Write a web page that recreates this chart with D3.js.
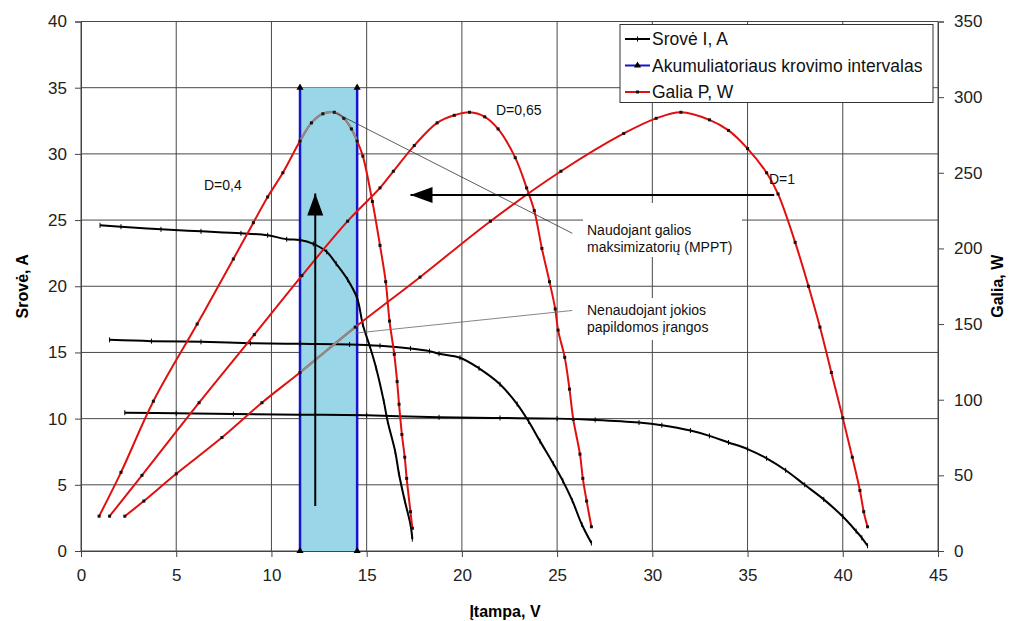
<!DOCTYPE html>
<html>
<head>
<meta charset="utf-8">
<script src="https://cdn.jsdelivr.net/npm/d3@7"></script>
<style>
  body { margin: 0; background: #fff; }
  svg { font-family: "Liberation Sans", Arial, sans-serif; }
</style>
</head>
<body>
<svg id="chart" width="1021" height="621"></svg>
<script>
// Current curves [V, A]
const currentD04 = [[1.0,24.6],[2.1,24.5],[4.2,24.3],[6.3,24.15],[8.4,24.0],[9.8,23.85],[10.8,23.55],[11.5,23.5],[12.2,23.2],[12.9,22.6],[13.4,21.7],[14.0,20.5],[14.5,19.1],[14.8,17.1],[15.2,15.3],[15.5,13.8],[15.9,11.3],[16.1,9.8],[16.5,7.5],[16.7,5.8],[17.0,3.8],[17.3,2.0],[17.4,0.9]];
const currentD065 = [[1.5,15.95],[3.7,15.85],[6.3,15.8],[8.9,15.7],[11.5,15.65],[14.1,15.6],[15.7,15.5],[17.3,15.3],[18.3,15.1],[18.8,14.9],[19.9,14.6],[20.9,13.8],[22.0,12.6],[22.9,11.1],[23.5,9.8],[24.1,8.3],[24.8,6.6],[25.3,5.3],[25.8,3.8],[26.3,2.0],[26.8,0.6]];
const currentD1 = [[2.3,10.45],[5,10.4],[8,10.35],[11.5,10.3],[15,10.25],[18.8,10.1],[22,10.05],[25,10.0],[27,9.9],[29.3,9.7],[30.5,9.5],[32,9.1],[33,8.7],[34,8.2],[35,7.7],[36,7.0],[37,6.1],[38,5.0],[39,3.9],[40,2.6],[40.7,1.5],[41,1.0],[41.3,0.4]];

// Power curves [V, W]
const powerD04 = [[0.95,23],[2.1,52],[3.8,99],[6.1,150],[8,193],[9.05,217],[9.8,234],[10.6,250],[11.5,271],[12.1,283],[12.7,289],[13.3,290],[13.8,286],[14.2,279],[14.5,271],[14.8,261],[15.3,231],[15.7,202],[16.0,178],[16.2,152],[16.45,130],[16.6,112],[16.7,97],[16.85,77],[17.0,62],[17.1,48],[17.3,26],[17.4,15]];
const powerD065 = [[1.5,23],[3.2,50],[6.2,98],[9.1,143],[11.6,182],[14.0,218],[15.7,240],[16.4,251],[17.5,268],[18.7,283],[19.6,288],[20.4,290],[21.2,287],[21.9,279],[22.8,260],[23.4,240],[23.8,225],[24.2,200],[24.6,178],[24.9,160],[25.05,146],[25.4,128],[25.65,107],[25.85,87],[26.2,64],[26.35,48],[26.55,33],[26.8,16]];
const powerD1 = [[2.3,23],[3.3,33],[5,51],[7.4,75],[9.5,98],[11.5,118],[14.4,148],[17.8,181],[21.5,218],[25.2,251],[28.5,276],[30.2,286],[31.5,290],[33,285],[34,278],[35,266],[36,250],[36.6,236],[37.5,204],[38.2,175],[38.8,148],[39.4,118],[40,88],[40.5,62],[40.9,40],[41.1,26],[41.3,16]];

// Charging interval (V) and its height (A)
const chargeInterval = [11.5, 14.5];
const chargeTop = 35;

const xTicks = d3.range(0, 46, 5);
const yLeftTicks = d3.range(0, 41, 5);
const yRightTicks = d3.range(0, 351, 50);

const legendItems = ["Srovė I, A", "Akumuliatoriaus krovimo intervalas", "Galia P, W"];

const svg = d3.select('#chart');
const plotLeft = 81, plotRight = 938, plotTop = 21.5, plotBottom = 551;

const x = d3.scaleLinear().domain([0, 45]).range([plotLeft, plotRight]);
const yL = d3.scaleLinear().domain([0, 40]).range([plotBottom, plotTop]);
const yR = d3.scaleLinear().domain([0, 350]).range([plotBottom, plotTop]);

// grid
svg.append('g').selectAll('line').data(yLeftTicks).join('line')
    .attr('x1', plotLeft).attr('x2', plotRight)
    .attr('y1', d => yL(d)).attr('y2', d => yL(d))
    .attr('stroke', '#484848').attr('stroke-width', 1);
svg.append('g').selectAll('line').data(xTicks).join('line')
    .attr('x1', d => x(d)).attr('x2', d => x(d))
    .attr('y1', plotTop).attr('y2', plotBottom)
    .attr('stroke', '#484848').attr('stroke-width', 1);

// axes
const axisL = svg.append('g').attr('transform', `translate(${plotLeft},0)`)
    .call(d3.axisLeft(yL).tickValues(yLeftTicks).tickSize(6).tickPadding(8));
const axisR = svg.append('g').attr('transform', `translate(${plotRight},0)`)
    .call(d3.axisRight(yR).tickValues(yRightTicks).tickSize(6).tickPadding(10));
const axisB = svg.append('g').attr('transform', `translate(0,${plotBottom})`)
    .call(d3.axisBottom(x).tickValues(xTicks).tickSize(6).tickPadding(12));
[axisL, axisR, axisB].forEach(a => {
    a.select('.domain').attr('stroke', '#444');
    a.selectAll('.tick line').attr('stroke', '#444');
    a.selectAll('.tick text').attr('font-size', 17).attr('fill', '#222')
        .attr('font-family', '"Liberation Sans", Arial, sans-serif');
});

// axis titles
svg.append('text').attr('transform', `translate(28,${(plotTop + plotBottom) / 2}) rotate(-90)`)
    .attr('text-anchor', 'middle').attr('font-size', 16).attr('font-weight', 'bold')
    .text('Srovė, A');
svg.append('text').attr('transform', `translate(1003,${(plotTop + plotBottom) / 2}) rotate(-90)`)
    .attr('text-anchor', 'middle').attr('font-size', 16).attr('font-weight', 'bold')
    .text('Galia, W');
svg.append('text').attr('x', 505).attr('y', 617)
    .attr('text-anchor', 'middle').attr('font-size', 16).attr('font-weight', 'bold')
    .text('Įtampa, V');

// charging band
svg.append('rect')
    .attr('x', x(chargeInterval[0])).attr('y', yL(chargeTop))
    .attr('width', x(chargeInterval[1]) - x(chargeInterval[0]))
    .attr('height', yL(0) - yL(chargeTop))
    .attr('fill', '#99d6e8');
chargeInterval.forEach(v => {
    svg.append('line').attr('x1', x(v)).attr('x2', x(v))
        .attr('y1', yL(0)).attr('y2', yL(chargeTop))
        .attr('stroke', '#1515d0').attr('stroke-width', 2.5);
    [0, chargeTop].forEach(c => {
        svg.append('path').attr('d', d3.symbol(d3.symbolTriangle, 22)())
            .attr('transform', `translate(${x(v)},${yL(c)})`).attr('fill', '#000');
    });
});

svg.append('clipPath').attr('id', 'band')
    .append('rect')
    .attr('x', x(chargeInterval[0])).attr('y', 0)
    .attr('width', x(chargeInterval[1]) - x(chargeInterval[0])).attr('height', 621);

const lineL = d3.line().x(d => x(d[0])).y(d => yL(d[1])).curve(d3.curveCatmullRom.alpha(0.5));
const lineR = d3.line().x(d => x(d[0])).y(d => yR(d[1])).curve(d3.curveCatmullRom.alpha(0.5));

// current curves
[currentD04, currentD065, currentD1].forEach(s => {
    svg.append('path').attr('d', lineL(s)).attr('fill', 'none')
        .attr('stroke', '#000').attr('stroke-width', 2);
    svg.append('g').selectAll('line').data(s).join('line')
        .attr('x1', d => x(d[0])).attr('x2', d => x(d[0]))
        .attr('y1', d => yL(d[1]) - 2.5).attr('y2', d => yL(d[1]) + 2.5)
        .attr('stroke', '#000').attr('stroke-width', 1);
});

// power curves
[powerD04, powerD065, powerD1].forEach(s => {
    svg.append('path').attr('d', lineR(s)).attr('fill', 'none')
        .attr('stroke', '#e01010').attr('stroke-width', 2);
});
// grey parts inside the charging band
[powerD04, powerD1].forEach(s => {
    svg.append('path').attr('d', lineR(s)).attr('fill', 'none')
        .attr('clip-path', 'url(#band)')
        .attr('stroke', '#8c8c8c').attr('stroke-width', 2.2);
});
[powerD04, powerD065, powerD1].forEach(s => {
    svg.append('g').selectAll('rect').data(s).join('rect')
        .attr('x', d => x(d[0]) - 1.5).attr('y', d => yR(d[1]) - 1.5)
        .attr('width', 3).attr('height', 3).attr('fill', '#111');
});

// arrows
function arrow(x1, y1, x2, y2) {
    svg.append('line').attr('x1', x1).attr('y1', y1).attr('x2', x2).attr('y2', y2)
        .attr('stroke', '#000').attr('stroke-width', 2);
    const ang = Math.atan2(y2 - y1, x2 - x1);
    const L = 22, W = 8;
    const bx = x2 - L * Math.cos(ang), by = y2 - L * Math.sin(ang);
    const px = -Math.sin(ang) * W, py = Math.cos(ang) * W;
    svg.append('path')
        .attr('d', `M${x2},${y2}L${bx + px},${by + py}L${bx - px},${by - py}Z`)
        .attr('fill', '#000');
}
arrow(x(12.3), yL(3.4), x(12.3), yL(27.0));
arrow(x(36.4), yL(26.9), x(17.3), yL(26.9));

// curve labels
const label = (t, px, py) => svg.append('text').attr('x', px).attr('y', py)
    .attr('font-size', 14).attr('fill', '#111').text(t);
label('D=0,4', 204, 190);
label('D=0,65', 496, 115);
label('D=1', 769, 184);

// annotations
svg.append('line').attr('x1', x(13.3)).attr('y1', yR(290)).attr('x2', x(25.8)).attr('y2', yR(210))
    .attr('stroke', '#333').attr('stroke-width', 0.8);
svg.append('line').attr('x1', x(14.4)).attr('y1', yR(144)).attr('x2', x(25.8)).attr('y2', yR(159))
    .attr('stroke', '#666').attr('stroke-width', 0.8);

const notes = [
    { y0: 203, h: 54, lines: ['Naudojant galios', 'maksimizatorių (MPPT)'], base: 235 },
    { y0: 298, h: 42, lines: ['Nenaudojant jokios', 'papildomos įrangos'], base: 315 }
];
notes.forEach(n => {
    svg.append('rect').attr('x', 583).attr('y', n.y0).attr('width', 159).attr('height', n.h).attr('fill', '#fff');
    n.lines.forEach((t, i) => {
        svg.append('text').attr('x', 587).attr('y', n.base + i * 17)
            .attr('font-size', 14).attr('fill', '#111').text(t);
    });
});

// legend
const lg = svg.append('g');
lg.append('rect').attr('x', 620).attr('y', 24.5).attr('width', 313).attr('height', 78)
    .attr('fill', '#fff').attr('stroke', '#333').attr('stroke-width', 1);
const legendColors = ['#000', '#1515d0', '#e01010'];
legendItems.forEach((t, i) => {
    const cy = 39 + i * 26.5;
    lg.append('line').attr('x1', 625).attr('x2', 650).attr('y1', cy).attr('y2', cy)
        .attr('stroke', legendColors[i]).attr('stroke-width', 2);
    if (i === 0) {
        lg.append('line').attr('x1', 637.5).attr('x2', 637.5).attr('y1', cy - 2.5).attr('y2', cy + 2.5)
            .attr('stroke', '#000');
    } else if (i === 1) {
        lg.append('path').attr('d', d3.symbol(d3.symbolTriangle, 22)())
            .attr('transform', `translate(637.5,${cy})`).attr('fill', '#000');
    } else {
        lg.append('rect').attr('x', 636).attr('y', cy - 1.5).attr('width', 3).attr('height', 3).attr('fill', '#111');
    }
    lg.append('text').attr('x', 652).attr('y', cy + 6).attr('font-size', 17.5).attr('fill', '#111').text(t);
});
</script>
</body>
</html>
